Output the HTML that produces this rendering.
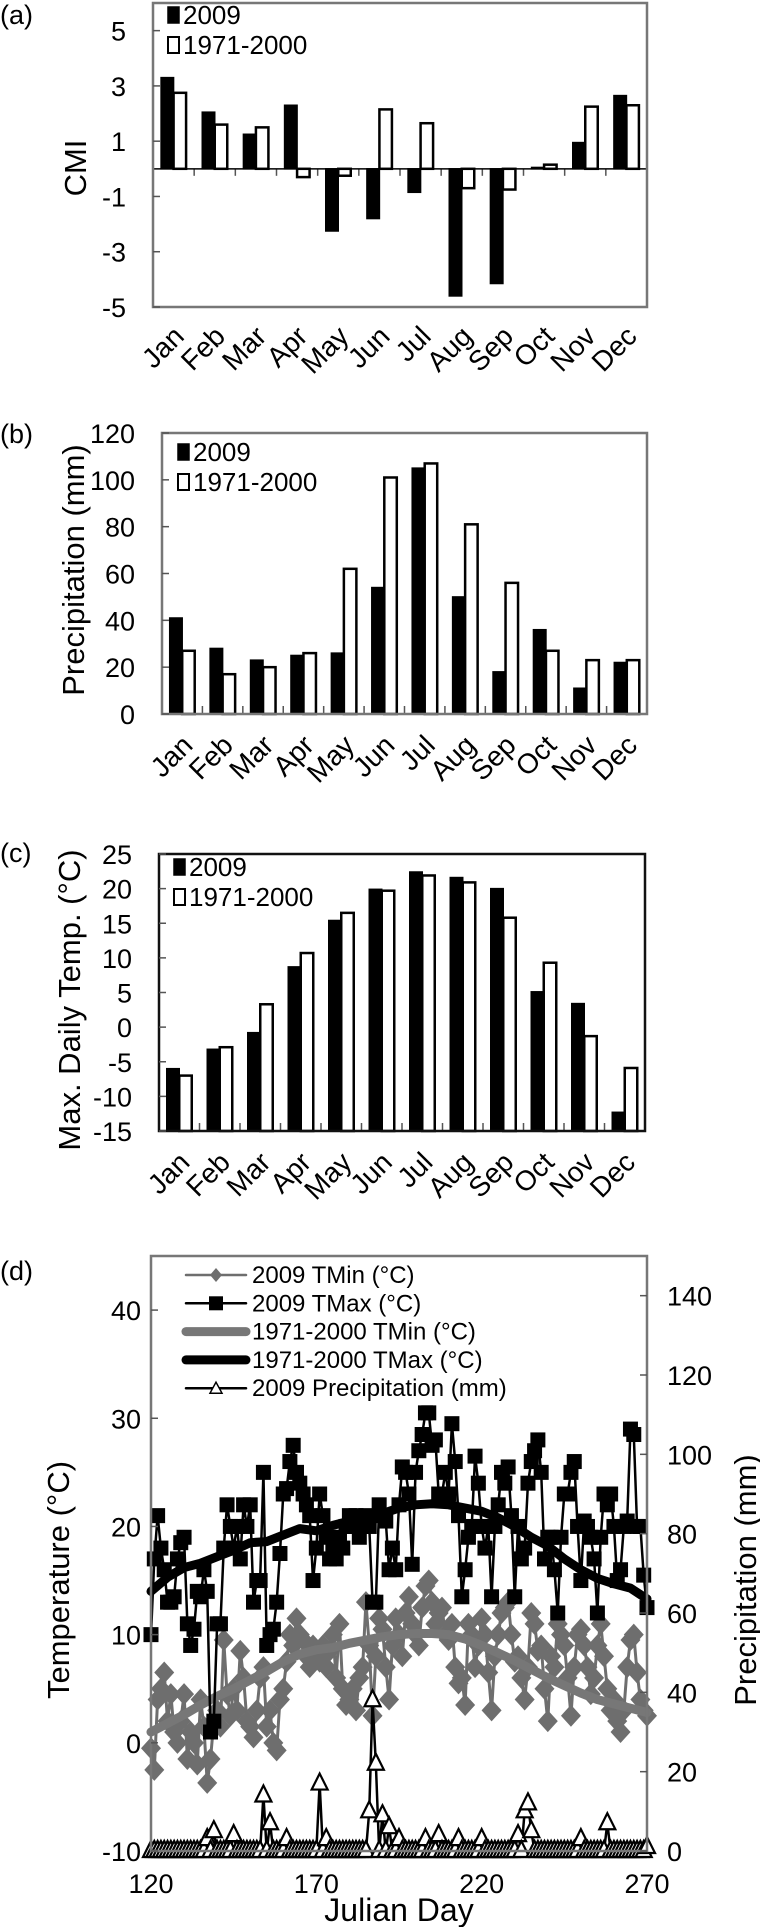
<!DOCTYPE html>
<html><head><meta charset="utf-8"><style>
html,body{margin:0;padding:0;background:#fff;}
svg{display:block;font-family:"Liberation Sans",Arial,sans-serif;}
</style></head><body>
<svg id="fig" width="760" height="1927" viewBox="0 0 760 1927" xmlns="http://www.w3.org/2000/svg">
<rect width="760" height="1927" fill="#fff"/>
<text x="0" y="24" font-size="27">(a)</text>
<text x="0" y="443" font-size="27">(b)</text>
<text x="0" y="862" font-size="27">(c)</text>
<text x="0" y="1280" font-size="27">(d)</text>
<text transform="translate(86,168) rotate(-90)" text-anchor="middle" font-size="31">CMI</text>
<text transform="translate(84,570) rotate(-90)" text-anchor="middle" font-size="31">Precipitation (mm)</text>
<text transform="translate(80,1000) rotate(-90)" text-anchor="middle" font-size="31">Max. Daily Temp. (°C)</text>
<text transform="translate(69,1580) rotate(-90)" text-anchor="middle" font-size="31">Temperature (°C)</text>
<text transform="translate(756,1580) rotate(-90)" text-anchor="middle" font-size="31">Precipitation (mm)</text>
<text x="399" y="1921" text-anchor="middle" font-size="32">Julian Day</text>
<g id="g"></g>
</svg>
<script>
// ---- data ----
const months = ["Jan","Feb","Mar","Apr","May","Jun","Jul","Aug","Sep","Oct","Nov","Dec"];
const cmi2009 = [3.3,2.05,1.25,2.3,-2.25,-1.8,-0.85,-4.6,-4.15,0.05,0.95,2.65];
const cmiNormal = [2.75,1.6,1.5,-0.3,-0.25,2.15,1.65,-0.7,-0.75,0.15,2.25,2.3];
const cmiTicks = [5,3,1,-1,-3,-5];
const precip2009 = [41,28,23,25,26,54,105,50,18,36,11,22];
const precipNormal = [27,17,20,26,62,101,107,81,56,27,23,23];
const precipTicks = [0,20,40,60,80,100,120];
const tmax2009 = [-6,-3.2,-0.8,8.7,15.4,19.9,22.4,21.6,20,5.1,3.4,-12.3];
const tmaxNormal = [-7,-2.9,3.3,10.7,16.5,19.7,21.9,20.9,15.8,9.3,-1.3,-5.9];
const tmaxTicks = [25,20,15,10,5,0,-5,-10,-15];
const dayStart = 120;
const dailyTMax = [10,17,21,18,16,13,13,13.5,17,18.5,
19,11,9,10.5,14,13.5,16,14,1,2,
11,11,18,22,20,18,20,17,22,20,
22,13,15,15,25,9,10,10.5,13,17.5,
23,23.5,26,27.5,25,24,23,22,21,15,
18,23,21,19,17,18,17,19,18,20,
21,20,21,19,20,21,20,13,13,22,
21,20.5,16,18,16,22,25.5,25,23,16.5,
25,27,28.5,30.5,30.5,27.5,28,23,23,25,
23,29.5,26,21,13.5,16,19,20,26.5,24,
20,18,20,13.5,20,22,25,24,25.5,21,
13.5,20,17,18,24,26,27,28,25,17,
19,19,16,12,19,23,23,25,26,20,
15,20.5,20,19,17,12,19,23,22,23,
20,15,16,20,20.5,29,28.5,20,20,15.5,
12.5];
const dailyTMin = [-0.5,-2.5,4,5,6.5,2,4.5,1,0,2,
4.5,-1.5,1,0,-2,4,1.5,-3.7,-1.5,2,
3,1.5,9.5,4.5,2.5,5,3,8.5,6,2,
1.5,0.5,3,6,7,1.5,3,0,-0.7,4,
5,7.5,10,9,11.5,10,9.5,8,7,9,
8,7.5,9,7,8.5,10,6,11,5,3.5,
4,5,3,6,7,13,9,2.5,8,11.5,
10.5,7,4,9,11.5,10,8,12,13.5,11,
10,9,12.5,14.5,15,13,11,12,12.5,10,
9.5,11,7,5.5,6,3.5,11,10,7,9,
11.5,10,6.5,3,8,10,12,12.5,13,10,
7.5,8,6,4,7,12,11,8.5,9,5,
2,8,7,11,10,9,6,2.5,7,10,
10.5,9,7,4.5,6,9,11,8,5,3,
4,2,1,3,7,9.5,10,6.5,4,3,
2.5];
const dailyPrecip = [0,0,0,0,0,0,0,0,0,0,
0,0,0,0,0,0,0,3,0,5,
0,0,0,0,0,4,0,0,0,0,
0,0,0,0,14,0,7,0,0,0,
0,3,0,0,0,0,0,0,0,0,
0,17,0,3,0,0,0,0,0,0,
0,0,0,0,0,0,10,38,22,0,
9,0,6,0,0,3,0,0,0,0,
0,0,0,3,0,0,0,4,0,0,
0,0,0,3,0,0,0,0,0,0,
3,0,0,0,0,0,0,0,0,0,
0,4,0,10,12,5,0,0,0,0,
0,0,0,0,0,0,0,0,0,0,
3,0,0,0,0,0,0,0,7,0,
0,0,0,0,0,0,0,0,0,0,
1];
const normalDays = [120,125,130,135,140,145,150,155,160,165,170,175,180,185,190,195,200,205,210,215,220,225,230,235,240,245,250,255,260,265,270];
const normalTMax = [14,15.3,16.2,16.6,17.2,17.8,18.5,18.6,19.2,19.8,19.6,20.1,20.5,20.8,21.2,21.7,22,22.1,22,21.7,21.4,20.8,20,19,18.2,17,16,15.2,14.7,14.3,13.3];
const normalTMin = [1,1.8,2.6,3.5,4.3,5,5.8,6.6,7.5,8.2,8.6,8.8,9.2,9.5,9.8,10,10.1,10.1,10,9.6,9,8.3,7.6,6.8,6,5.3,4.6,4,3.6,3.2,2.8];
const dayTicks = [120,170,220,270];
const tempTicks = [-10,0,10,20,30,40];
const rainTicks = [0,20,40,60,80,100,120,140];

const NS="http://www.w3.org/2000/svg";
const G=document.getElementById('g');
function mk(tag, attrs, parent){const e=document.createElementNS(NS,tag);for(const k in attrs)e.setAttribute(k,attrs[k]);(parent||G).appendChild(e);return e;}

function barPanel(id, x0, x1, yTop, yBot, vmin, vmax, base, s1, s2, ticks, legY1, legX, frameColor, tickAtZero){
  const pg=mk('g',{});
  
  
  const ys=v=>yBot-(v-vmin)/(vmax-vmin)*(yBot-yTop);
  const slot=(x1-x0)/months.length;
  const bw=12.5;
  const baseY=ys(base);
  months.forEach((m,i)=>{
    const cx=x0+slot*(i+0.5);
    const a=s1[i], b=s2[i];
    const r1=mk('rect',{x:cx-bw,y:Math.min(ys(a),baseY),width:bw,height:Math.max(1,Math.abs(ys(a)-baseY)),fill:'#000',stroke:'#000','stroke-width':1.5},pg);
    
    
    const r2=mk('rect',{x:cx,y:Math.min(ys(b),baseY),width:bw,height:Math.max(1,Math.abs(ys(b)-baseY)),fill:'#fff',stroke:'#000','stroke-width':2.5},pg);
    
    
    const lt=mk('text',{transform:`translate(${cx+12},${yBot+(tickAtZero?31:33)}) rotate(-45)`,'text-anchor':'end','font-size':28},pg);
    lt.textContent=m;
    
    
    const tx=x0+slot*(i+1);
    if(i<months.length-1){
      if(tickAtZero) mk('line',{x1:tx,x2:tx,y1:baseY,y2:baseY+7,stroke:'#555','stroke-width':1.5},pg);
      else mk('line',{x1:tx,x2:tx,y1:yBot,y2:yBot-8,stroke:'#555','stroke-width':1.5},pg);
    }
  });
  if(tickAtZero){
    const zl=mk('line',{x1:x0,x2:x1,y1:baseY,y2:baseY,stroke:'#000','stroke-width':1.5},pg);
    
    
  }
  const fr=mk('rect',{x:x0,y:yTop,width:x1-x0,height:yBot-yTop,fill:'none',stroke:frameColor,'stroke-width':2.5},pg);
  
  
  ticks.forEach(t=>{
    const y=ys(t);
    mk('line',{x1:x0,x2:x0+7,y1:y,y2:y,stroke:'#555','stroke-width':1.5},pg);
    const tl=mk('text',{x:x0-27,y:y+10,'text-anchor':'end','font-size':27},pg);
    tl.textContent=t;
    
    
  });
  const l1=mk('rect',{x:legX,y:legY1-8,width:11,height:16,fill:'#000',stroke:'#000','stroke-width':1.5},pg);
  
  
  const t1=mk('text',{x:legX+15,y:legY1+9,'font-size':26},pg);
  t1.textContent='2009';
  
  
  const l2=mk('rect',{x:legX,y:legY1+22,width:11,height:16,fill:'#fff',stroke:'#000','stroke-width':2},pg);
  
  
  const t2=mk('text',{x:legX+15,y:legY1+39,'font-size':26},pg);
  t2.textContent='1971-2000';
  
  
}
barPanel('cmi',153,647,3,307,-5,6,0,cmi2009,cmiNormal,cmiTicks,15,168,'#777',true);
barPanel('precip',162,647,433,714,0,120,0,precip2009,precipNormal,precipTicks,452,178,'#777',false);
barPanel('maxtemp',159,645,854,1131,-15,25,-15,tmax2009,tmaxNormal,tmaxTicks,867,174,'#111',false);

// ---- panel d ----
const dx0=151,dx1=647,dyTop=1256,dyBot=1851;
const xs=d=>dx0+(d-120)/(270-120)*(dx1-dx0);
const ts=t=>dyBot-(t+10)/55*(dyBot-dyTop);
const rs=r=>dyBot-r/150*(dyBot-dyTop);
const dg=mk('g',{});


const days=dailyTMax.map((_,i)=>dayStart+i);
function poly(pts,stroke,w,name){
  const p=mk('polyline',{points:pts.join(' '),fill:'none',stroke:stroke,'stroke-width':w,'stroke-linejoin':'round','stroke-linecap':'round'},dg);
  
  
  return p;
}
poly(days.map((d,i)=>xs(d)+','+ts(dailyTMin[i])),'#6e6e6e',3,'tmin-2009-line');
days.forEach((d,i)=>{
  const x=xs(d),y=ts(dailyTMin[i]);
  const dm=mk('polygon',{points:`${x},${y-11} ${x+10},${y} ${x},${y+11} ${x-10},${y}`,fill:'#6e6e6e'},dg);
  
  
});
poly(normalDays.map((d,i)=>xs(d)+','+ts(normalTMin[i])),'#777',9,'tmin-normal-line');
poly(days.map((d,i)=>xs(d)+','+ts(dailyTMax[i])),'#000',2.5,'tmax-2009-line');
days.forEach((d,i)=>{
  const x=xs(d),y=ts(dailyTMax[i]);
  const sq=mk('rect',{x:x-7.5,y:y-7.5,width:15,height:15,fill:'#000'},dg);
  
  
});
poly(normalDays.map((d,i)=>xs(d)+','+ts(normalTMax[i])),'#000',9,'tmax-normal-line');
poly(days.map((d,i)=>xs(d)+','+rs(dailyPrecip[i])),'#000',2.5,'precip-2009-line');
days.forEach((d,i)=>{
  const x=xs(d),y=rs(dailyPrecip[i]);
  const tr=mk('polygon',{points:`${x},${y-10} ${x+8},${y+6} ${x-8},${y+6}`,fill:'#fff',stroke:'#000','stroke-width':2.2},dg);
  
  
});
const df=mk('rect',{x:dx0,y:dyTop,width:dx1-dx0,height:dyBot-dyTop,fill:'none',stroke:'#777','stroke-width':2.5},dg);


tempTicks.forEach(t=>{
  const y=ts(t);
  mk('line',{x1:dx0,x2:dx0+7,y1:y,y2:y,stroke:'#555','stroke-width':1.5},dg);
  const tl=mk('text',{x:dx0-10,y:y+10,'text-anchor':'end','font-size':27},dg);
  tl.textContent=t;
  
  
});
rainTicks.forEach(t=>{
  const y=rs(t);
  mk('line',{x1:dx1,x2:dx1-7,y1:y,y2:y,stroke:'#555','stroke-width':1.5},dg);
  const tl=mk('text',{x:dx1+20,y:y+10,'font-size':27},dg);
  tl.textContent=t;
  
  
});
dayTicks.forEach(t=>{
  const x=xs(t);
  const tl=mk('text',{x:x,y:1893,'text-anchor':'middle','font-size':27},dg);
  tl.textContent=t;
  
  
});
// legend
const legItems=[
 ['2009 TMin (°C)','#6e6e6e',2.5,'diamond'],
 ['2009 TMax (°C)','#000',2.5,'square'],
 ['1971-2000 TMin (°C)','#777',9,'none'],
 ['1971-2000 TMax (°C)','#000',9,'none'],
 ['2009 Precipitation (mm)','#000',2.5,'tri']];
legItems.forEach((it,i)=>{
  const y=1275+i*28.3;
  const ln=mk('line',{x1:186,x2:246,y1:y,y2:y,stroke:it[1],'stroke-width':it[2],'stroke-linecap':'round'},dg);
  
  
  if(it[3]==='diamond') mk('polygon',{points:`216,${y-7} 222,${y} 216,${y+7} 210,${y}`,fill:'#6e6e6e'},dg);
  if(it[3]==='square') mk('rect',{x:209,y:y-7,width:14,height:14,fill:'#000'},dg);
  if(it[3]==='tri') mk('polygon',{points:`216,${y-6} 222,${y+5} 210,${y+5}`,fill:'#fff',stroke:'#000','stroke-width':1.5},dg);
  const lt=mk('text',{x:252,y:y+8,'font-size':24},dg);
  lt.textContent=it[0];
  
  
});
</script>
</body></html>
